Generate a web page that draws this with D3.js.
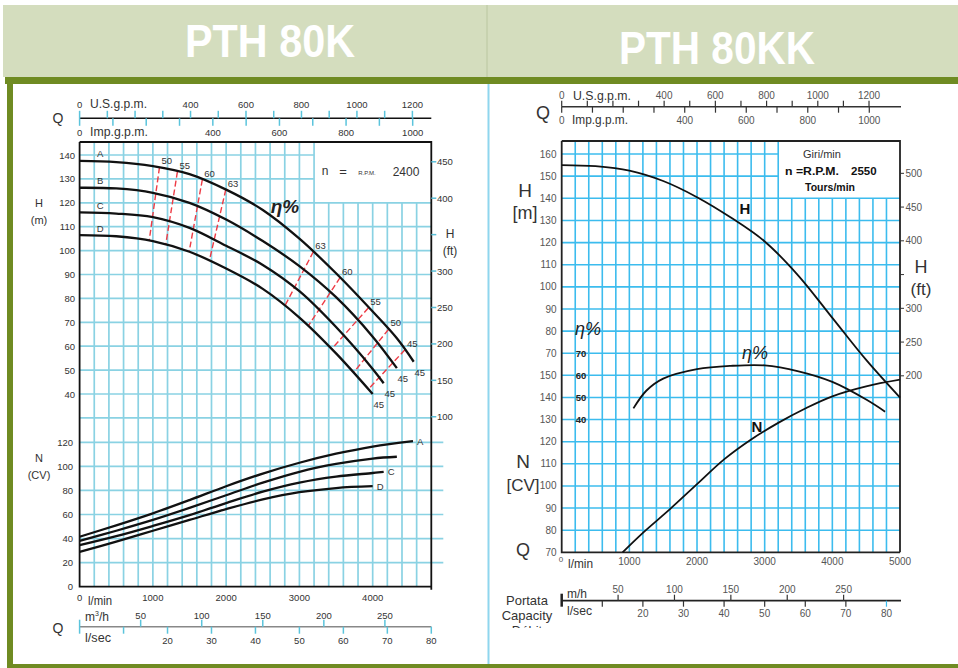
<!DOCTYPE html>
<html>
<head>
<meta charset="utf-8">
<script src="https://cdnjs.cloudflare.com/ajax/libs/d3/7.8.5/d3.min.js"></script>
<style>
body { margin: 0; background: #fff; }
text { font-family: "Liberation Sans Narrow", "Liberation Sans", Arial, sans-serif; }
</style>
</head>
<body>
<svg id="chart" width="958" height="668"></svg>
<script>
// ---------- data: PTH 80K (left), Q in l/min ----------
const leftHeadA = [[0,137.5],[500,137],[1000,135.3],[1500,132],[2000,125.5],[2500,117],[3000,105],[3500,90.5],[4000,74.5],[4330,63.3],[4560,53.5]];
const leftHeadB = [[0,126.3],[500,126],[1000,124.2],[1500,120],[2000,113],[2500,104],[3000,93.5],[3500,80.5],[4000,64],[4330,50.8]];
const leftHeadC = [[0,116],[500,115.5],[1000,114],[1500,109.5],[2000,102],[2500,94],[3000,83],[3500,68],[4000,50.5],[4150,44.5]];
const leftHeadD = [[0,106.5],[500,106],[1000,104],[1500,99.5],[2000,92.5],[2500,84],[3000,72],[3500,57],[4000,40]];
const leftPowerA = [[0,41.5],[500,51],[1000,61],[1500,72],[2000,83.5],[2500,94],[3000,103],[3500,110.5],[4000,116.5],[4550,121]];
const leftPowerB = [[0,38],[500,46.5],[1000,55.5],[1500,65.5],[2000,76],[2500,86.5],[3000,95.5],[3500,102],[4000,106.5],[4330,108]];
const leftPowerC = [[0,34.5],[500,42],[1000,50.5],[1500,59.5],[2000,69.5],[2500,79],[3000,86.5],[3500,91.5],[4000,94.5],[4150,95.5]];
const leftPowerD = [[0,29],[500,37.5],[1000,46.5],[1500,55.5],[2000,64.5],[2500,72.5],[3000,78.5],[3500,82],[4000,83.5]];
const curveNames = ["A","B","C","D"];
// iso-efficiency lines (red dashes): efficiency, top end [Q,H], bottom end [Q,H]
const isoEta = [50,55,60,63,63,60,55,50,45];
const isoTop = [[1090,134.8],[1335,133],[1675,129.7],[1995,125.5],[3190,99.5],[3555,88.7],[3940,76],[4215,67],[4440,58.5]];
const isoBottom = [[950,104.2],[1175,102.4],[1495,99.5],[1770,95.7],[2800,76.8],[3120,68.4],[3440,58.8],[3740,49],[3940,42]];
const endEta = 45;

const leftHTicks = [140,130,120,110,100,90,80,70,60,50,40];
const leftNTicks = [120,100,80,60,40,20,0];
const leftFtTicks = [450,400,350,300,250,200,150,100];
const leftFlowLabels = [0,1000,2000,3000,4000];
const leftRpm = 2400;

// ---------- data: PTH 80KK (right) ----------
const rightHead = [[0,155],[500,154.5],[1000,152.5],[1500,147.8],[2000,140.5],[2500,131.3],[3000,120.5],[3500,105],[4000,86],[4500,67],[5000,50]];
const rightEff = [[1060,45],[1250,53],[1500,58.5],[2000,62.8],[2500,64.3],[3000,64.5],[3500,61.8],[4000,57],[4500,49],[4780,43.5]];
const rightPower = [[900,70],[1200,78.8],[1600,89.5],[2000,100.8],[2400,112],[2800,121],[3200,128.5],[3600,135],[4000,140.5],[4500,145],[5000,148]];
const rightHTicks = [160,150,140,130,120,110,100,90,80,70];
const rightNTicks = [150,140,130,120,110,100,90,80,70];
const rightEtaTicks = [70,60,50,40];
const rightFtTicks = [500,450,400,350,300,250,200];
const rightFlowLabels = [1000,2000,3000,4000,5000];
const rightRpm = 2550;

// secondary flow scales
const usTicks = [0,100,200,300,400,500,600,700,800,900,1000,1100,1200];
const usLabels = [0,400,600,800,1000,1200];
const impTicks = [0,100,200,300,400,500,600,700,800,900,1000];
const impLabels = [0,400,600,800,1000];
const m3hTicks = [50,100,150,200,250];
const lsTicks = [10,20,30,40,50,60,70,80];
const lsLabels = [20,30,40,50,60,70,80];

const US_GAL = 3.785, IMP_GAL = 4.546, M3H = 1000 / 60, LPS = 60, FT = 0.3048;

const svg = d3.select("#chart");

// ---------- page frame ----------
svg.append("rect").attr("x", 3).attr("y", 5).attr("width", 955).attr("height", 72).attr("fill", "#d4ddbe");
svg.append("line").attr("x1", 487).attr("x2", 487).attr("y1", 5).attr("y2", 77).attr("stroke", "#bac6a0");
svg.append("rect").attr("x", 5).attr("y", 77).attr("width", 953).attr("height", 7).attr("fill", "#6f8b22");
svg.append("rect").attr("x", 7).attr("y", 77).attr("width", 6).attr("height", 591).attr("fill", "#6f8b22");
svg.append("rect").attr("x", 7).attr("y", 664).attr("width", 951).attr("height", 4).attr("fill", "#6f8b22");
svg.append("line").attr("x1", 488.5).attr("x2", 488.5).attr("y1", 84).attr("y2", 664).attr("stroke", "#8fd6ee").attr("stroke-width", 2);

svg.append("text").attr("x", 270).attr("y", 57).attr("text-anchor", "middle").attr("fill", "#fff")
  .attr("font-size", 46).attr("font-weight", "bold")
  .attr("textLength", 170).attr("lengthAdjust", "spacingAndGlyphs").text("PTH 80K");
svg.append("text").attr("x", 717).attr("y", 64).attr("text-anchor", "middle").attr("fill", "#fff")
  .attr("font-size", 46).attr("font-weight", "bold")
  .attr("textLength", 196).attr("lengthAdjust", "spacingAndGlyphs").text("PTH 80KK");

function txt(g, x, y, s, size, opts) {
  opts = opts || {};
  const t = g.append("text").attr("x", x).attr("y", y).attr("font-size", size)
    .attr("fill", opts.fill || "#333").attr("text-anchor", opts.anchor || "start").text(s);
  if (opts.weight) t.attr("font-weight", opts.weight);
  if (opts.family) t.attr("font-family", opts.family);
  if (opts.style) t.attr("font-style", opts.style);
  if (opts.len) t.attr("textLength", opts.len).attr("lengthAdjust", "spacingAndGlyphs");
  return t;
}

// ================= LEFT: PTH 80K =================
const xL = d3.scaleLinear().domain([0, 4800]).range([79.6, 431.3]);
const yLH = d3.scaleLinear().domain([40, 140]).range([394, 155]);
const yLN = d3.scaleLinear().domain([0, 120]).range([586.7, 442.3]);
const lTop = 142, lBot = yLN(0);
const gL = svg.append("g");
const gridL = "#8ad2e3";

gL.selectAll("line.v").data(d3.range(200, 4800, 200)).join("line")
  .attr("x1", d => xL(d)).attr("x2", d => xL(d))
  .attr("y1", d => d > 3200 ? yLH(120) : lTop).attr("y2", lBot)
  .attr("stroke", gridL).attr("stroke-width", 1.7);
gL.selectAll("line.h").data(d3.range(30, 141, 10)).join("line")
  .attr("x1", xL(0)).attr("x2", d => d > 120 ? xL(3200) : xL(4800))
  .attr("y1", d => yLH(d)).attr("y2", d => yLH(d))
  .attr("stroke", gridL).attr("stroke-width", 1.7);
gL.selectAll("line.hn").data(d3.range(20, 121, 20)).join("line")
  .attr("x1", xL(0)).attr("x2", xL(4800) + 12)
  .attr("y1", d => yLN(d)).attr("y2", d => yLN(d))
  .attr("stroke", gridL).attr("stroke-width", 1.7);

// frame
gL.append("path").attr("fill", "none").attr("stroke", "#111").attr("stroke-width", 1.8)
  .attr("d", `M${xL(0)},${lTop}H${xL(4800)}V${lBot + 3}M${xL(0)},${lTop}V${lBot}H${xL(4800)}`);

// rpm box
txt(gL, 325, 175, "n", 12, {anchor: "middle"});
txt(gL, 343, 176, "=", 13, {anchor: "middle"});
txt(gL, 367, 175, "R.P.M.", 6, {anchor: "middle"});
txt(gL, 406, 176, leftRpm, 12, {anchor: "middle"});

// y labels
leftHTicks.forEach(v => txt(gL, 75, yLH(v) + 3.5, v, 9.5, {anchor: "end"}));
leftNTicks.forEach(v => txt(gL, 73, yLN(v) + 3.5, v, 9.5, {anchor: "end"}));
txt(gL, 39, 207, "H", 11, {anchor: "middle"});
txt(gL, 39, 224, "(m)", 11, {anchor: "middle"});
txt(gL, 39, 462, "N", 11, {anchor: "middle"});
txt(gL, 39, 479, "(CV)", 11, {anchor: "middle"});
leftFtTicks.forEach(v => {
  const y = yLH(v * FT);
  gL.append("line").attr("x1", xL(4800)).attr("x2", xL(4800) + 5).attr("y1", y).attr("y2", y)
    .attr("stroke", "#5bbfd8").attr("stroke-width", 1.5);
  if (v !== 350) txt(gL, 437, y + 3.5, v, 9.5);
});
txt(gL, 450, 238, "H", 12, {anchor: "middle"});
txt(gL, 450, 255, "(ft)", 12, {anchor: "middle"});

// top flow axis (gpm)
const topL = 118.3;
gL.append("line").attr("x1", xL(0)).attr("x2", xL(4800)).attr("y1", topL).attr("y2", topL).attr("stroke", "#111").attr("stroke-width", 1.5);
usTicks.forEach(v => gL.append("line").attr("x1", xL(v * US_GAL)).attr("x2", xL(v * US_GAL))
  .attr("y1", topL - 7.5).attr("y2", topL).attr("stroke", "#5bc4dc").attr("stroke-width", 1.5));
impTicks.forEach(v => gL.append("line").attr("x1", xL(v * IMP_GAL)).attr("x2", xL(v * IMP_GAL))
  .attr("y1", topL).attr("y2", topL + 7.5).attr("stroke", "#5bc4dc").attr("stroke-width", 1.5));
usLabels.forEach(v => txt(gL, xL(v * US_GAL), 108, v, 9.5, {anchor: "middle"}));
impLabels.forEach(v => txt(gL, xL(v * IMP_GAL), 136, v, 9.5, {anchor: "middle"}));
txt(gL, 90, 108, "U.S.g.p.m.", 12, {len: 57});
txt(gL, 90, 136, "Imp.g.p.m.", 12, {len: 58});
txt(gL, 58, 123, "Q", 14, {anchor: "middle"});

// bottom flow axes
leftFlowLabels.forEach(v => txt(gL, xL(v), 601, v, 9.5, {anchor: "middle"}));
txt(gL, 88, 605, "l/min", 12, {len: 24});
const botL = 626.7;
gL.append("line").attr("x1", xL(0)).attr("x2", xL(4800)).attr("y1", botL).attr("y2", botL).attr("stroke", "#888").attr("stroke-width", 1.5);
gL.append("line").attr("x1", xL(0)).attr("x2", xL(0)).attr("y1", botL - 7).attr("y2", botL + 7).attr("stroke", "#5bc4dc").attr("stroke-width", 1.5);
m3hTicks.forEach(v => {
  gL.append("line").attr("x1", xL(v * M3H)).attr("x2", xL(v * M3H)).attr("y1", botL - 7).attr("y2", botL)
    .attr("stroke", "#5bc4dc").attr("stroke-width", 1.5);
  txt(gL, xL(v * M3H), 619, v, 9.5, {anchor: "middle"});
});
lsTicks.forEach(v => gL.append("line").attr("x1", xL(v * LPS)).attr("x2", xL(v * LPS)).attr("y1", botL).attr("y2", botL + 7)
  .attr("stroke", "#5bc4dc").attr("stroke-width", 1.5));
lsLabels.forEach(v => txt(gL, xL(v * LPS), 644, v, 9.5, {anchor: "middle"}));
const m3L = txt(gL, 85, 621, "m", 12);
m3L.append("tspan").attr("font-size", 7).attr("dy", -5).text("3");
m3L.append("tspan").attr("dy", 5).text("/h");
txt(gL, 85, 642, "l/sec", 12, {len: 26});
txt(gL, 58, 633, "Q", 14, {anchor: "middle"});

// curves
const lineLH = d3.line().x(d => xL(d[0])).y(d => yLH(d[1])).curve(d3.curveCatmullRom);
const lineLN = d3.line().x(d => xL(d[0])).y(d => yLN(d[1])).curve(d3.curveCatmullRom);
const leftHeads = [leftHeadA, leftHeadB, leftHeadC, leftHeadD];
const leftPowers = [leftPowerA, leftPowerB, leftPowerC, leftPowerD];

// red iso-efficiency dashes
isoEta.forEach((e, i) => {
  gL.append("line").attr("x1", xL(isoTop[i][0])).attr("y1", yLH(isoTop[i][1]))
    .attr("x2", xL(isoBottom[i][0])).attr("y2", yLH(isoBottom[i][1]))
    .attr("stroke", "#ee3b45").attr("stroke-width", 1.4).attr("stroke-dasharray", "6,3");
  txt(gL, xL(isoTop[i][0]) + 2, yLH(isoTop[i][1]) - 3, e, 9.5);
});

gL.selectAll("path.head").data(leftHeads).join("path")
  .attr("fill", "none").attr("stroke", "#111").attr("stroke-width", 2.3).attr("d", lineLH);
gL.selectAll("path.power").data(leftPowers).join("path")
  .attr("fill", "none").attr("stroke", "#111").attr("stroke-width", 2.3).attr("d", lineLN);

leftHeads.forEach((c, i) => {
  txt(gL, xL(280), yLH(c[0][1]) - 3.5, curveNames[i], 9.5, {anchor: "middle"});
  const e = c[c.length - 1];
  txt(gL, xL(e[0]) + 6, yLH(e[1]) + 14, endEta, 9.5, {anchor: "middle"});
});
[0, 2, 3].forEach(i => {
  const e = leftPowers[i][leftPowers[i].length - 1];
  txt(gL, xL(e[0]) + 4, yLN(e[1]) + 3.5, curveNames[i], 9.5);
});
txt(gL, 285, 213, "\u03b7%", 19, {anchor: "middle", family: "DejaVu Serif", style: "italic", weight: "bold", fill: "#222"});

// ================= RIGHT: PTH 80KK =================
const xR = d3.scaleLinear().domain([0, 5000]).range([561.7, 900]);
const yRH = d3.scaleLinear().domain([70, 160]).range([353.3, 154]);
const yREta = d3.scaleLinear().domain([40, 70]).range([419.4, 353.3]);
const yRN = d3.scaleLinear().domain([70, 150]).range([552.3, 375.3]);
const rTop = 141, rBot = yRN(70);
const gR = svg.append("g");
const gridR = "#3cbcee";
const RF = "'Liberation Sans', Arial, sans-serif";

gR.selectAll("line.v").data(d3.range(200, 5000, 200)).join("line")
  .attr("x1", d => xR(d)).attr("x2", d => xR(d))
  .attr("y1", d => d > 3200 ? yRH(140) : rTop).attr("y2", rBot)
  .attr("stroke", gridR).attr("stroke-width", 1.6);
gR.selectAll("line.h").data(rightHTicks).join("line")
  .attr("x1", xR(0)).attr("x2", d => d > 140 ? xR(3200) : xR(5000))
  .attr("y1", d => yRH(d)).attr("y2", d => yRH(d))
  .attr("stroke", gridR).attr("stroke-width", 1.6);
gR.selectAll("line.hn").data(rightNTicks.slice(0, -1)).join("line")
  .attr("x1", xR(0)).attr("x2", xR(5000))
  .attr("y1", d => yRN(d)).attr("y2", d => yRN(d))
  .attr("stroke", gridR).attr("stroke-width", 1.6);
gR.append("path").attr("fill", "none").attr("stroke", "#222").attr("stroke-width", 1.8)
  .attr("d", `M${xR(0)},${rTop}H${xR(5000)}V${rBot}M${xR(0)},${rTop}V${rBot}H${xR(5000)}`);

// y labels
rightHTicks.forEach(v => txt(gR, 556.5, yRH(v) + 3.5, v, 10, {anchor: "end", family: RF, fill: "#555"}));
rightNTicks.forEach(v => txt(gR, 556.5, yRN(v) + 3.5, v, 10, {anchor: "end", family: RF, fill: "#555"}));
rightEtaTicks.forEach(v => txt(gR, 581, yREta(v) + 3.5, v, 9.5, {anchor: "middle", family: RF, weight: "900", fill: "#222"}));
rightFtTicks.forEach(v => {
  const y = yRH(v * FT) + 2.5;
  gR.append("line").attr("x1", xR(5000)).attr("x2", xR(5000) + 4).attr("y1", y).attr("y2", y).attr("stroke", "#333");
  if (v !== 350) txt(gR, 905.5, y + 3.5, v, 10, {family: RF, fill: "#555"});
});
txt(gR, 525, 197, "H", 19, {anchor: "middle", family: RF, fill: "#333"});
txt(gR, 525, 219, "[m]", 18, {anchor: "middle", family: RF, fill: "#333"});
txt(gR, 523, 468, "N", 19, {anchor: "middle", family: RF, fill: "#333"});
txt(gR, 523, 491, "[CV]", 17, {anchor: "middle", family: RF, fill: "#333"});
txt(gR, 523, 556, "Q", 18, {anchor: "middle", family: RF, fill: "#333"});
txt(gR, 921, 273, "H", 18, {anchor: "middle", family: RF, fill: "#333"});
txt(gR, 921, 295, "(ft)", 17, {anchor: "middle", family: RF, fill: "#333"});

// rpm box
txt(gR, 822, 158, "Giri/min", 11, {anchor: "middle", family: RF, fill: "#333"});
txt(gR, 785, 175, "n =R.P.M.", 11.5, {weight: "bold", fill: "#111", len: 54});
txt(gR, 851, 175, rightRpm, 11.5, {weight: "bold", fill: "#111"});
txt(gR, 830, 191, "Tours/min", 11.5, {anchor: "middle", weight: "bold", fill: "#111", len: 50});

// top gpm axis
const topR = 106.7;
gR.append("line").attr("x1", xR(0)).attr("x2", xR(5000) + 1).attr("y1", topR).attr("y2", topR).attr("stroke", "#333").attr("stroke-width", 1.5);
usTicks.forEach(v => gR.append("line").attr("x1", xR(v * US_GAL)).attr("x2", xR(v * US_GAL))
  .attr("y1", topR - 6).attr("y2", topR).attr("stroke", "#333").attr("stroke-width", 1.2));
impTicks.forEach(v => gR.append("line").attr("x1", xR(v * IMP_GAL)).attr("x2", xR(v * IMP_GAL))
  .attr("y1", topR).attr("y2", topR + 6).attr("stroke", "#333").attr("stroke-width", 1.2));
usLabels.forEach(v => txt(gR, xR(v * US_GAL), 99, v, 10, {anchor: "middle", family: RF, fill: "#555"}));
impLabels.forEach(v => txt(gR, xR(v * IMP_GAL), 124, v, 10, {anchor: "middle", family: RF, fill: "#555"}));
txt(gR, 573, 100, "U.S.g.p.m.", 12, {family: RF, fill: "#333", len: 58});
txt(gR, 572, 124, "Imp.g.p.m.", 12, {family: RF, fill: "#333", len: 56});
txt(gR, 543, 119, "Q", 18, {anchor: "middle", family: RF, fill: "#333"});

// bottom flow axes
txt(gR, 561, 562, "0", 8, {anchor: "middle", family: RF, fill: "#555"});
rightFlowLabels.forEach(v => txt(gR, xR(v), 565, v, 10, {anchor: "middle", family: RF, fill: "#555"}));
txt(gR, 568, 568, "l/min", 13, {family: RF, fill: "#333", len: 25});
const botR = 600.7;
gR.append("line").attr("x1", xR(0)).attr("x2", xR(5000) + 1).attr("y1", botR).attr("y2", botR).attr("stroke", "#222").attr("stroke-width", 1.8);
gR.append("line").attr("x1", xR(0)).attr("x2", xR(0)).attr("y1", botR - 7).attr("y2", botR + 6).attr("stroke", "#222").attr("stroke-width", 2.5);
m3hTicks.forEach(v => {
  gR.append("line").attr("x1", xR(v * M3H)).attr("x2", xR(v * M3H)).attr("y1", botR - 6).attr("y2", botR).attr("stroke", "#333").attr("stroke-width", 1.2);
  txt(gR, xR(v * M3H), 593, v, 10, {anchor: "middle", family: RF, fill: "#555"});
});
lsTicks.forEach(v => gR.append("line").attr("x1", xR(v * LPS)).attr("x2", xR(v * LPS)).attr("y1", botR).attr("y2", botR + 6)
  .attr("stroke", v === 80 ? gridR : "#333").attr("stroke-width", 1.2));
lsLabels.forEach(v => txt(gR, xR(v * LPS), 617, v, 10, {anchor: "middle", family: RF, fill: "#555"}));
txt(gR, 567, 598, "m/h", 13, {family: RF, fill: "#333", len: 20});
txt(gR, 567, 615, "l/sec", 13, {family: RF, fill: "#333", len: 25});
svg.append("clipPath").attr("id", "cut").append("rect").attr("x", 490).attr("y", 560).attr("width", 80).attr("height", 68);
const gLbl = gR.append("g").attr("clip-path", "url(#cut)");
txt(gLbl, 527, 605, "Portata", 13, {anchor: "middle", family: RF, fill: "#333"});
txt(gLbl, 527, 620, "Capacity", 13, {anchor: "middle", family: RF, fill: "#333"});
txt(gLbl, 527, 635, "D\u00e9bit", 13, {anchor: "middle", family: RF, fill: "#333"});

// curves
const lineRH = d3.line().x(d => xR(d[0])).y(d => yRH(d[1])).curve(d3.curveCatmullRom);
const lineREta = d3.line().x(d => xR(d[0])).y(d => yREta(d[1])).curve(d3.curveCatmullRom);
const lineRN = d3.line().x(d => xR(d[0])).y(d => yRN(d[1])).curve(d3.curveCatmullRom);
gR.append("path").datum(rightHead).attr("fill", "none").attr("stroke", "#111").attr("stroke-width", 1.8).attr("d", lineRH);
gR.append("path").datum(rightEff).attr("fill", "none").attr("stroke", "#111").attr("stroke-width", 1.8).attr("d", lineREta);
gR.append("path").datum(rightPower).attr("fill", "none").attr("stroke", "#111").attr("stroke-width", 1.8).attr("d", lineRN);

txt(gR, 745, 214, "H", 15, {anchor: "middle", family: RF, weight: "bold", fill: "#111"});
txt(gR, 757, 432, "N", 15, {anchor: "middle", family: RF, weight: "bold", fill: "#111"});
txt(gR, 588, 335, "\u03b7%", 18, {anchor: "middle", family: "DejaVu Serif", style: "italic", fill: "#222"});
txt(gR, 755, 359, "\u03b7%", 18, {anchor: "middle", family: "DejaVu Serif", style: "italic", fill: "#222"});
</script>
</body>
</html>
